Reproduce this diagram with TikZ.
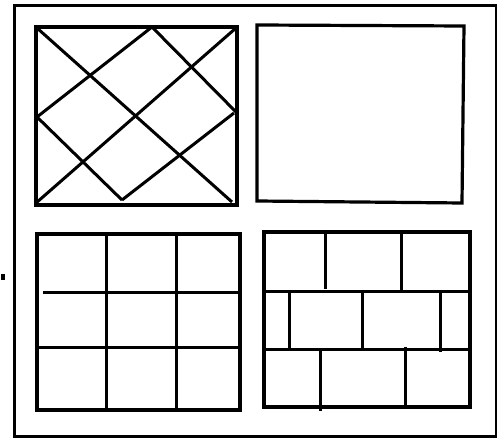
\documentclass[tikz,border=0pt]{standalone}
\begin{document}
\begin{tikzpicture}[x=1pt,y=-1pt,
  frame/.style={line width=2.8pt,black},
  panel/.style={line width=3.2pt,black,line join=miter},
  grid/.style={line width=3pt,black}]
\useasboundingbox (0,0) rectangle (499,438);
\fill[white] (0,0) rectangle (499,438);
% outer frame
\draw[frame] (14.5,5.5) rectangle (496,436.5);
% top-left panel with diagonals
\coordinate (tlA) at (36,27);
\coordinate (tlB) at (237,27);
\coordinate (tlC) at (237,205);
\coordinate (tlD) at (36,205);
\draw[panel] (tlA) rectangle (tlC);
\draw[grid] (37,28) -- (232,202);
\draw[grid] (236,28) -- (36,203);
\draw[grid] (152,27) -- (237,113);
\draw[grid] (152,27) -- (37,117);
\draw[grid] (37,117) -- (122,200);
\draw[grid] (122,200) -- (234,113);
% top-right panel (empty)
\draw[panel] (257,25) -- (464,26) -- (462,203) -- (257,201) -- cycle;
% bottom-left panel: 3x3 grid
\draw[panel] (37,234) rectangle (240,410);
\draw[grid] (106,234) -- (106,410);
\draw[grid] (176,234) -- (176,410);
\draw[grid] (43,293) -- (240,293);
\draw[grid] (37,348) -- (240,348);
% bottom-right panel: brick pattern
\draw[panel] (264,232) rectangle (470,407);
\draw[grid] (264,292) -- (470,292);
\draw[grid] (264,350) -- (470,350);
\draw[grid] (325,230) -- (325,289);
\draw[grid] (401,232) -- (401,292);
\draw[grid] (289,292) -- (289,350);
\draw[grid] (362,292) -- (362,350);
\draw[grid] (440,292) -- (440,352);
\draw[grid] (320,350) -- (320,411);
\draw[grid] (405,347) -- (405,407);
% small speck at left
\fill[black] (1,274.5) rectangle (4.5,280);
\end{tikzpicture}
\end{document}
